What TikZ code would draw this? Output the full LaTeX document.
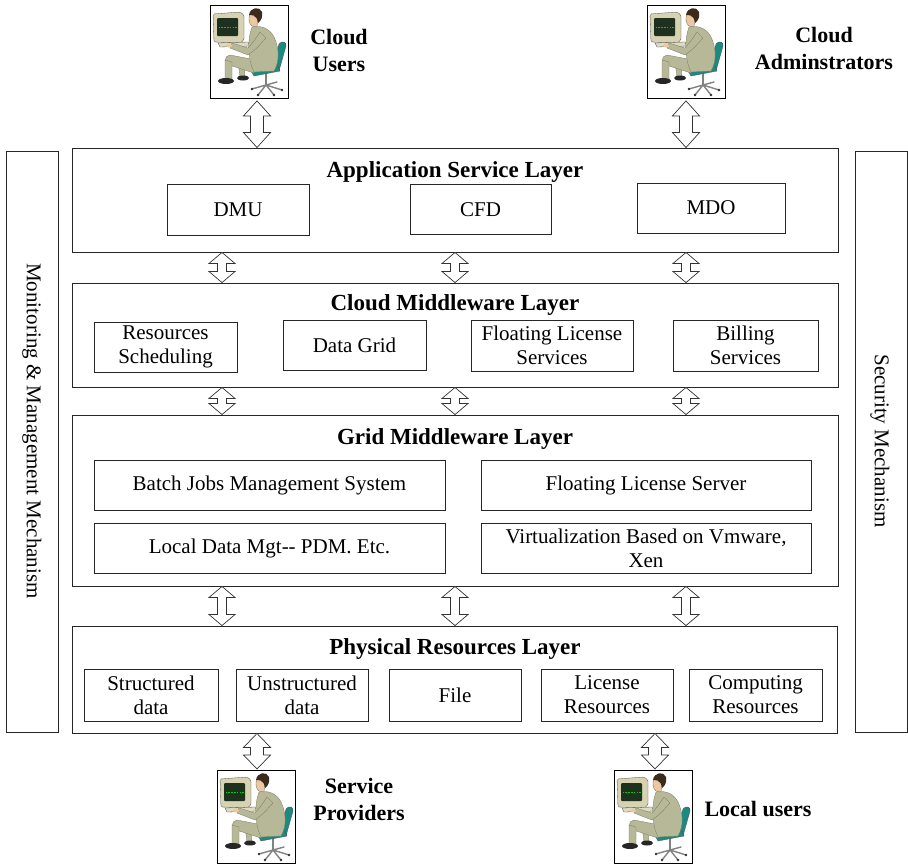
\documentclass[tikz,border=0pt]{standalone}
\usepackage{fontspec}
\setmainfont{Liberation Serif}
\usetikzlibrary{calc}

\definecolor{suit}{RGB}{183,184,152}
\definecolor{suitdark}{RGB}{120,122,96}
\definecolor{chairteal}{RGB}{28,138,128}
\definecolor{monbody}{RGB}{214,210,178}
\definecolor{screen}{RGB}{30,48,30}
\definecolor{skin}{RGB}{236,200,160}
\definecolor{hair}{RGB}{60,42,28}
\definecolor{basegray}{RGB}{130,130,130}

\tikzset{
  layer/.style={draw=black!85, line width=0.9pt, fill=white, inner sep=0pt},
  item/.style={draw=black!85, line width=0.8pt, fill=white, align=center, inner sep=0pt,
    font=\fontsize{21}{24}\selectfont},
  title/.style={font=\bfseries\fontsize{23}{27}\selectfont, inner sep=0pt},
  who/.style={font=\bfseries\fontsize{22}{27}\selectfont, align=center, inner sep=0pt},
  side/.style={font=\fontsize{21}{24}\selectfont, rotate=-90, inner sep=0pt},
  iconframe/.style={draw=black, line width=0.9pt, inner sep=0pt, fill=white,
    minimum width=78pt, minimum height=93pt, anchor=north west},
  fat/.style={draw=black!80, line width=0.7pt, fill=white, line join=miter},
  pics/operator/.style={code={
    % chair column and star base
    \draw[basegray, line width=1.8pt, line cap=round] (56,68) -- (56,80);
    \draw[basegray, line width=1.4pt, line cap=round]
      (56,80) -- (42,84) (56,80) -- (48,90) (56,80) -- (64,90)
      (56,80) -- (72,85) (56,80) -- (67,77);
    \foreach \p in {(42,84),(48,90),(64,90),(72,85)} \fill[black!80] \p circle (1.3pt);
    % chair back and seat
    \fill[chairteal, draw=black!70, line width=0.3pt]
      (62,64) -- (69,39) .. controls (72,35) and (77,37) .. (76,41) -- (69,66) -- cycle;
    \fill[chairteal, draw=black!70, line width=0.3pt]
      (40,64) -- (68,61) -- (70,66) -- (44,71) -- cycle;
    % monitor housing, screen and keyboard
    \fill[monbody, draw=black!70, line width=0.3pt, rounded corners=1.5pt]
      (3,9) -- (30,7) -- (34,10) -- (34,35) -- (30,38) -- (4,37) -- cycle;
    \fill[screen, rounded corners=1pt] (7,13) rectangle (28,31);
    \draw[green!80!black, line width=0.9pt, dash pattern=on 1.6pt off 1.2pt] (8.5,22) -- (27,22);
    \fill[monbody!80!white, draw=black!70, line width=0.3pt]
      (8,38) -- (38,37) -- (40,41) -- (10,42) -- cycle;
    % back leg
    \fill[suit, draw=suitdark, line width=0.3pt] (28,57) -- (34,58) -- (35,72) -- (30,72) -- cycle;
    \fill[black!85] (33,73) ellipse (6pt and 2.5pt);
    % front leg
    \fill[suit, draw=suitdark, line width=0.3pt]
      (46,55) -- (20,50) .. controls (14,51) and (14,58) .. (19,60) -- (44,68) -- cycle;
    \fill[suit, draw=suitdark, line width=0.3pt] (15,55) -- (22,57) -- (22,74) -- (15,74) -- cycle;
    \fill[black!85] (16,76) ellipse (8pt and 3pt);
    % torso
    \fill[suit, draw=suitdark, line width=0.3pt]
      (42,22) .. controls (52,20) and (60,24) .. (64,32)
      .. controls (69,42) and (70,56) .. (64,66) -- (44,67)
      .. controls (38,55) and (37,35) .. (42,22) -- cycle;
    % arm reaching to the keyboard
    \fill[suit, draw=suitdark, line width=0.3pt]
      (50,27) .. controls (44,36) .. (38,43) -- (22,38) -- (20,43) -- (38,50)
      .. controls (46,44) .. (56,33) -- cycle;
    \fill[skin] (19,40.5) ellipse (3pt and 2pt);
    % head
    \fill[skin, draw=black!60, line width=0.3pt]
      (40,9) .. controls (38,13) and (39,19) .. (42,21) -- (47,22) -- (48,13) -- cycle;
    \fill[hair]
      (39,10) .. controls (40,2) and (50,1) .. (52,7)
      .. controls (53,12) and (51,16) .. (48,18) .. controls (47,13) .. (43,10) -- cycle;
  }},
}

% hollow double-headed arrow from (#1) down to (#2):
% #3 half width of the heads, #4 half width of the shaft, #5 head length
\newcommand\dblarr[5]{%
  \draw[fat] (#1) -- ++(#3,#5) -- ++(#4-#3,0) -- ($(#2)+(#4,-#5)$) -- ++(#3-#4,0)
    -- (#2) -- ++(-#3,-#5) -- ++(#3-#4,0) -- ($(#1)+(-#4,#5)$) -- ++(#4-#3,0) -- cycle;}

\begin{document}
\begin{tikzpicture}[x=1pt, y=-1pt]
\useasboundingbox (0,0) rectangle (908,865);

% side mechanisms
\node[layer, minimum width=52pt, minimum height=581pt] (mon) at (32,441.5) {};
\node[side] (mon-t) at (32,431) {Monitoring \& Management Mechanism};
\node[layer, minimum width=52pt, minimum height=581pt] (sec) at (881,441.5) {};
\node[side] (sec-t) at (880,441) {Security Mechanism};

% application service layer
\node[layer, minimum width=766pt, minimum height=104pt] (app) at (455,200) {};
\node[title] (app-t) at (455,172) {Application Service Layer};
\node[item, minimum width=142pt, minimum height=51pt] (dmu) at (238,209.5) {DMU};
\node[item, minimum width=141pt, minimum height=50pt] (cfd) at (480.5,209.5) {CFD};
\node[item, minimum width=148pt, minimum height=50pt] (mdo) at (711,208) {MDO};

% cloud middleware layer
\node[layer, minimum width=766pt, minimum height=104pt] (cmw) at (455,335) {};
\node[title] (cmw-t) at (455,305) {Cloud Middleware Layer};
\node[item, minimum width=143pt, minimum height=50pt] (rs) at (165.5,347) {Resources\\Scheduling};
\node[item, minimum width=143pt, minimum height=50pt] (dg) at (354.5,345) {Data Grid};
\node[item, minimum width=162pt, minimum height=51pt] (fls) at (552,345.5) {Floating License\\Services};
\node[item, minimum width=145pt, minimum height=51pt] (bs) at (745.5,345.5) {Billing\\Services};

% grid middleware layer
\node[layer, minimum width=766pt, minimum height=171pt] (gmw) at (455,500.5) {};
\node[title] (gmw-t) at (455,439) {Grid Middleware Layer};
\node[item, minimum width=351pt, minimum height=50pt] (bj) at (269.5,485) {Batch Jobs Management System};
\node[item, minimum width=351pt, minimum height=50pt] (ld) at (269.5,548) {Local Data Mgt-{}- PDM. Etc.};
\node[item, minimum width=330pt, minimum height=50pt] (flsv) at (646,485) {Floating License Server};
\node[item, minimum width=330pt, minimum height=50pt] (vm) at (646,548) {Virtualization Based on Vmware,\\Xen};

% physical resources layer
\node[layer, minimum width=765pt, minimum height=107pt] (phy) at (454.5,679.5) {};
\node[title] (phy-t) at (455,649) {Physical Resources Layer};
\node[item, minimum width=134pt, minimum height=52pt] (sd) at (151,695) {Structured\\data};
\node[item, minimum width=132pt, minimum height=52pt] (ud) at (302,695) {Unstructured\\data};
\node[item, minimum width=132pt, minimum height=52pt] (fi) at (455,695) {File};
\node[item, minimum width=132pt, minimum height=52pt] (lr) at (607,695) {License\\Resources};
\node[item, minimum width=133pt, minimum height=52pt] (cr) at (755.5,695) {Computing\\Resources};

% people
\node[iconframe] (cu) at (210,5) {};
\pic at (cu.north west) {operator};
\node[who] (cu-t) at (339,50.5) {Cloud\\Users};
\node[iconframe] (ca) at (647,5) {};
\pic at (ca.north west) {operator};
\node[who] (ca-t) at (824,48.5) {Cloud\\Adminstrators};
\node[iconframe] (sp) at (217,770) {};
\pic at (sp.north west) {operator};
\node[who] (sp-t) at (359,799) {Service\\Providers};
\node[iconframe] (lu) at (614,770) {};
\pic at (lu.north west) {operator};
\node[who] (lu-t) at (758,809) {Local users};

% connections between people and layers
\coordinate (a1) at ($(257,0 |- cu.south)+(0,2)$);
\coordinate (b1) at (257,0 |- app.north);
\dblarr{a1}{b1}{13.5}{6.5}{15}
\coordinate (a2) at ($(686,0 |- ca.south)+(0,2)$);
\coordinate (b2) at (686,0 |- app.north);
\dblarr{a2}{b2}{13.5}{6.5}{15}
\coordinate (a3) at (257,0 |- phy.south);
\coordinate (b3) at ($(257,0 |- sp.north)+(0,-1)$);
\dblarr{a3}{b3}{13.5}{6.5}{14}
\coordinate (a4) at (655,0 |- phy.south);
\coordinate (b4) at ($(655,0 |- lu.north)+(0,-1)$);
\dblarr{a4}{b4}{13.5}{6.5}{14}

% connections between layers
\foreach \x [count=\i] in {222,455,686} {
  \coordinate (p\i) at (\x,0 |- app.south);
  \coordinate (q\i) at (\x,0 |- cmw.north);
  \dblarr{p\i}{q\i}{13}{4.5}{11}
  \coordinate (r\i) at (\x,0 |- cmw.south);
  \coordinate (s\i) at (\x,0 |- gmw.north);
  \dblarr{r\i}{s\i}{13}{4.5}{11}
  \coordinate (u\i) at (\x,0 |- gmw.south);
  \coordinate (v\i) at (\x,0 |- phy.north);
  \dblarr{u\i}{v\i}{13}{4.5}{11}
}
\end{tikzpicture}
\end{document}
